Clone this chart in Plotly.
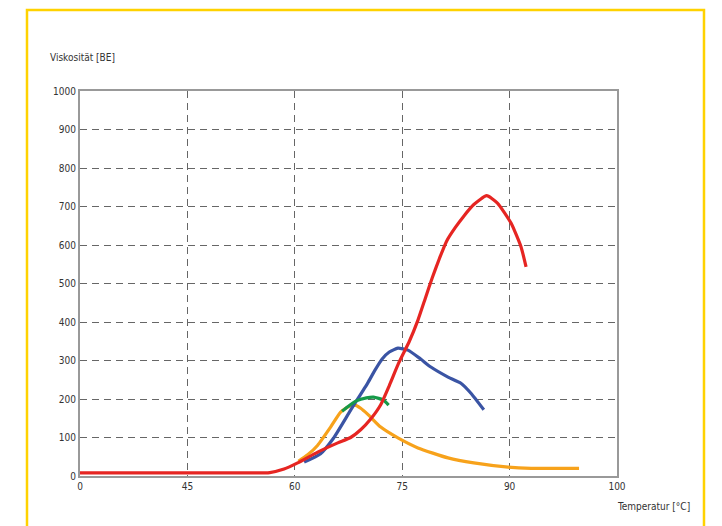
import plotly.graph_objects as go

# Data (temperature in °C on a linear scale; first tick labelled "0" sits at 30)
red_x = [30, 45, 54, 56.5, 58.5, 60.4, 63.2, 66.0, 67.8, 69.2, 70.6, 72.0, 73.2, 74.5, 76.0, 77.2, 78.2, 79.2, 80.2, 81.2, 82.4, 83.6, 85.0, 86.8, 88.3, 90.2, 91.6, 92.3]
red_y = [8, 8, 8, 9, 18, 34, 62, 86, 100, 120, 148, 185, 235, 293, 350, 405, 460, 515, 565, 610, 645, 675, 705, 728, 709, 657, 595, 543]

blue_x = [61.3, 63.6, 65.4, 67.8, 70.2, 71.2, 72.2, 73.2, 74.4, 75.8, 77.5, 79.0, 81.4, 83.2, 84.6, 86.4]
blue_y = [36, 58, 98, 171, 242, 275, 304, 322, 332, 327, 305, 283, 257, 241, 215, 172]

green_x = [66.6, 67.4, 68.6, 70.0, 71.0, 72.4, 73.1]
green_y = [168, 180, 195, 203, 205, 197, 184]

orange_x = [60.5, 61.8, 63.2, 65.0, 66.4, 67.6, 68.4, 69.2, 70.2, 72.0, 74.4, 77.2, 81.4, 85.0, 89.8, 93.0, 96.0, 99.7]
orange_y = [38, 55, 80, 127, 166, 181, 184, 176, 160, 127, 99, 73, 47, 34, 23, 20, 20, 20]

x_tickvals = [30, 45, 60, 75, 90, 105]
x_ticktext = ["0", "45", "60", "75", "90", "100"]
y_tickvals = [0, 100, 200, 300, 400, 500, 600, 700, 800, 900, 1000]

FONT = "Liberation Sans Narrow, Arial Narrow, DejaVu Sans Condensed, sans-serif"

fig = go.Figure()
for xs, ys, col in [(orange_x, orange_y, "#f7a21b"),
                    (blue_x, blue_y, "#3a54a4"),
                    (green_x, green_y, "#169a48"),
                    (red_x, red_y, "#e62522")]:
    fig.add_trace(go.Scatter(x=xs, y=ys, mode="lines",
                             line=dict(color=col, width=3.2, shape="spline", smoothing=0.5),
                             showlegend=False, hoverinfo="skip"))

# page body has an 8px margin; compensate so the plot sits where the reference's does
fig.update_layout(
    width=714, height=518,
    margin=dict(l=72, r=105, t=83, b=50),
    paper_bgcolor="white", plot_bgcolor="white",
    font=dict(family=FONT, size=10, color="#333"),
    xaxis=dict(range=[30, 105], tickvals=x_tickvals, ticktext=x_ticktext,
               showgrid=True, gridcolor="#666", griddash="7px,5px", gridwidth=1.3,
               showline=True, linecolor="#999", linewidth=2, mirror=True,
               zeroline=False, ticks="", tickfont=dict(size=10, color="#333")),
    yaxis=dict(range=[0, 1000], tickvals=y_tickvals,
               showgrid=True, gridcolor="#666", griddash="7px,5px", gridwidth=1.3,
               showline=True, linecolor="#999", linewidth=2, mirror=True,
               zeroline=False, ticks="", tickfont=dict(size=10, color="#333")),
    annotations=[
        dict(text="Viskosität [BE]", xref="paper", yref="paper",
             x=-0.06, y=1.088, xanchor="left", yanchor="middle",
             showarrow=False, font=dict(size=10, color="#333")),
        dict(text="Temperatur [°C]", xref="paper", yref="paper",
             x=0.996, y=-0.08, xanchor="left", yanchor="middle",
             showarrow=False, font=dict(size=10, color="#333")),
    ],
    shapes=[
        dict(type="path", xref="paper", yref="paper",
             path="M -0.0987,-0.2 L -0.0987,1.2104 L 1.162,1.2104 L 1.162,-0.2",
             line=dict(color="#ffd200", width=2.5), layer="above"),
    ],
)

fig.write_html("out.html")
